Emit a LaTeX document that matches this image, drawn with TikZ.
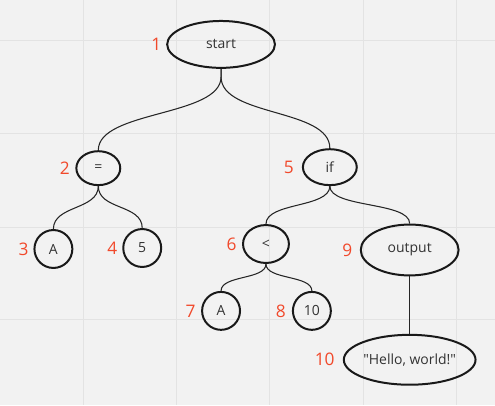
\documentclass[tikz,border=0pt]{standalone}
\usepackage{fontspec}
\setmainfont{Open Sans}
\usetikzlibrary{shapes.geometric,positioning}
\definecolor{numred}{HTML}{F1492B}
\definecolor{ink}{HTML}{333333}
\definecolor{paper}{HTML}{F2F2F2}
\definecolor{gridline}{HTML}{E3E3E3}

\begin{document}
\begin{tikzpicture}[
    x=0.75pt, y=-0.75pt,
    oval/.style={ellipse, draw=black!90, line width=1.5pt, inner sep=0pt, text=ink, font=\fontsize{10.5}{12}\selectfont},
    leaf/.style={circle, draw=black!90, line width=1.5pt, minimum size=28.5pt, inner sep=0pt, text=ink, font=\fontsize{10.5}{12}\selectfont},
    num/.style={text=numred, inner sep=0pt, font=\fontsize{13}{15}\selectfont},
    branch/.style={line width=0.8pt, draw=black!85}
]

% Background grid
\fill[paper] (0,0) rectangle (495,405);
\foreach \gx in {83,176.5,270,363.5,457} \draw[gridline, line width=0.75pt] (\gx,0) -- (\gx,405);
\foreach \gy in {40,133,227,320} \draw[gridline, line width=0.75pt] (0,\gy) -- (495,\gy);
\useasboundingbox (0,0) rectangle (495,405);

% Tree nodes
\node[oval, minimum width=81pt, minimum height=35.25pt] (start) at (221,44) {start};
\node[oval, minimum width=33pt, minimum height=25.5pt] (eq) at (98,168) {=};
\node[leaf] (varA) at (53,249) {A};
\node[leaf] (five) at (142,248) {5};
\node[oval, minimum width=40.5pt, minimum height=27pt] (if) at (330,167) {if};
\node[oval, minimum width=34.5pt, minimum height=28.5pt] (less) at (266,244) {<};
\node[leaf] (condA) at (221,311) {A};
\node[leaf] (ten) at (312,311) {10};
\node[oval, minimum width=73.5pt, minimum height=38.25pt] (output) at (410,250) {output};
\node[oval, minimum width=99pt, minimum height=37.5pt] (hello) at (410,360) {\textquotedbl Hello, world!\textquotedbl};

% Step numbers
\node[num, left=3.5pt of start] (n1) {1};
\node[num, left=4pt of eq] (n2) {2};
\node[num, left=3.5pt of varA] (n3) {3};
\node[num, left=3.5pt of five] (n4) {4};
\node[num, left=6pt of if] (n5) {5};
\node[num, left=4pt of less] (n6) {6};
\node[num, left=4pt of condA] (n7) {7};
\node[num, left=4.5pt of ten] (n8) {8};
\node[num, left=5.5pt of output] (n9) {9};
\node[num, left=6pt of hello] (n10) {10};

% Branches
\draw[branch] (start.south) -- ++(0,8) .. controls +(0,40) and +(0,-40) .. (eq.north);
\draw[branch] (start.south) -- ++(0,8) .. controls +(0,40) and +(0,-40) .. (if.north);
\draw[branch] (eq.south) .. controls +(0,24) and +(0,-24) .. (varA.north);
\draw[branch] (eq.south) .. controls +(0,24) and +(0,-24) .. (five.north);
\draw[branch] (if.south) .. controls +(0,22) and +(0,-22) .. (less.north);
\draw[branch] (if.south) .. controls +(0,22) and +(0,-22) .. (output.north);
\draw[branch] (less.south) .. controls +(0,16) and +(0,-16) .. (condA.north);
\draw[branch] (less.south) .. controls +(0,16) and +(0,-16) .. (ten.north);
\draw[branch] (output.south) -- (hello.north);

\end{tikzpicture}
\end{document}
